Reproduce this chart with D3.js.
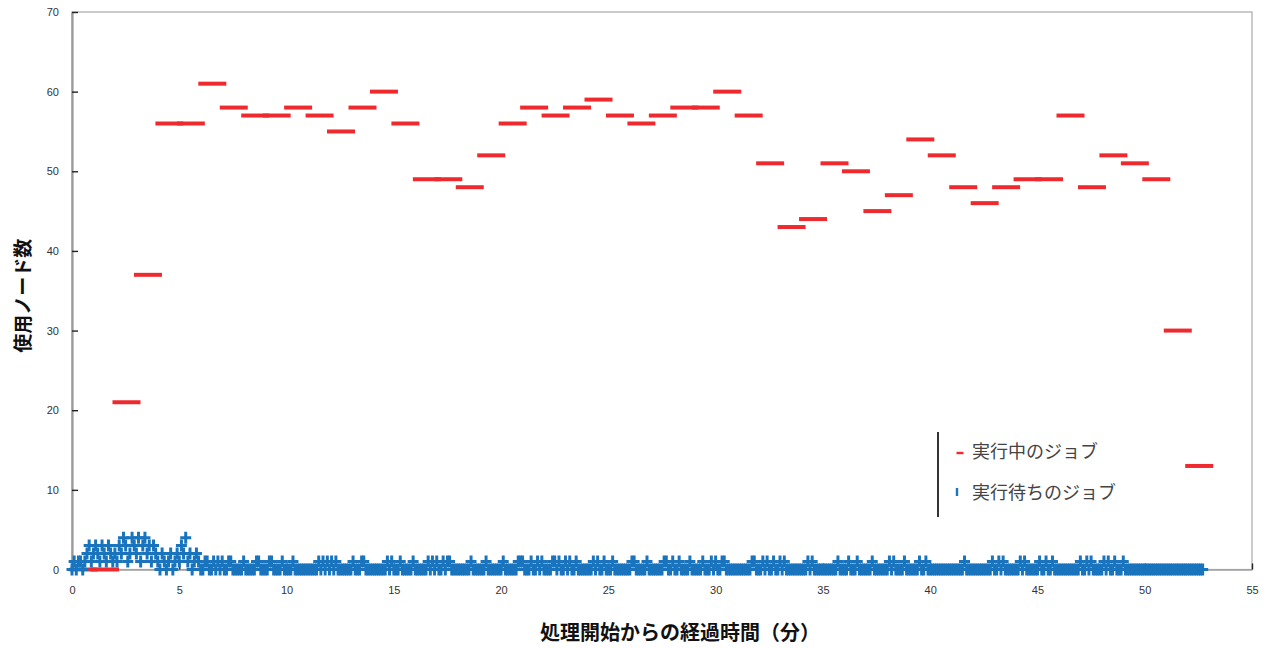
<!DOCTYPE html>
<html>
<head>
<meta charset="utf-8">
<script src="https://cdn.jsdelivr.net/npm/d3@7"></script>
<style>
  body { margin: 0; background: #fff; }
  svg { display: block; }
</style>
</head>
<body>
<svg id="chart" width="1271" height="648"></svg>
<script>
// Running jobs: nodes in use, read once a minute (minutes since start).
const runMinutes = [
  0.54, 1.54, 2.54, 3.54, 4.54, 5.54, 6.54, 7.54, 8.54, 9.54,
  10.54, 11.54, 12.54, 13.54, 14.54, 15.54, 16.54, 17.54, 18.54, 19.54,
  20.54, 21.54, 22.54, 23.54, 24.54, 25.54, 26.54, 27.54, 28.54, 29.54,
  30.54, 31.54, 32.54, 33.54, 34.54, 35.54, 36.54, 37.54, 38.54, 39.54,
  40.54, 41.54, 42.54, 43.54, 44.54, 45.54, 46.54, 47.54, 48.54, 49.54,
  50.54, 51.54, 52.54
];
const runNodes = [
  0, 0, 21, 37, 56, 56, 61, 58, 57, 57,
  58, 57, 55, 58, 60, 56, 49, 49, 48, 52,
  56, 58, 57, 58, 59, 57, 56, 57, 58, 58,
  60, 57, 51, 43, 44, 51, 50, 45, 47, 54,
  52, 48, 46, 48, 49, 49, 57, 48, 52, 51,
  49, 30, 13
];

// Waiting jobs: the queue is logged every 6 seconds and is empty
// except at the samples listed below.
const queueSampleStep = 0.1;
const queueLastSample = 52.7;

// Start-up surge: sample minute and queue length.
const burstMinutes = [
  0.1, 0.3, 0.4, 0.6,
  0.7, 0.8, 0.9, 1.0, 1.1, 1.2, 1.3, 1.4, 1.5, 1.6,
  1.7, 1.8, 1.9, 2.0, 2.1, 2.2, 2.3, 2.4, 2.5, 2.6,
  2.7, 2.8, 2.9, 3.0, 3.1, 3.2, 3.3, 3.4, 3.5, 3.6,
  3.7, 3.8, 3.9, 4.0,
  4.2, 4.3, 4.5, 4.6, 4.8, 4.9, 5.0, 5.1, 5.2, 5.3,
  5.4, 5.5, 5.7, 5.8, 5.9
];
const burstCounts = [
  1, 1, 1, 1,
  2, 3, 1, 2, 3, 2, 1, 3, 2, 1,
  3, 2, 1, 2, 1, 3, 2, 4, 3, 1,
  2, 4, 3, 2, 4, 1, 3, 4, 2, 3,
  1, 3, 2, 1,
  2, 1, 1, 2, 1, 2, 1, 3, 2, 4,
  1, 2, 1, 2, 1
];
// Later samples with exactly one job waiting.
const singleWaitMinutes = [
  6.2, 6.3, 6.6, 6.8, 7.0, 7.3, 7.4, 8.0, 8.6, 8.7,
  9.2, 9.3, 9.8, 10.3, 11.5, 11.7, 11.9, 12.1, 12.3, 13.1,
  13.5, 13.6, 14.7, 14.9, 15.3, 15.9, 16.6, 16.8, 17.0, 17.3,
  17.5, 17.6, 18.6, 19.3, 20.1, 20.8, 20.9, 21.0, 21.4, 21.7,
  21.9, 22.4, 22.5, 22.7, 23.0, 23.2, 23.5, 24.3, 24.5, 24.8,
  25.2, 26.1, 26.2, 26.8, 27.6, 27.7, 28.0, 28.3, 28.8, 29.4,
  29.8, 30.0, 30.3, 30.4, 31.7, 31.8, 32.2, 32.4, 32.7, 33.0,
  33.2, 34.3, 34.5, 35.7, 36.2, 36.6, 37.3, 38.1, 38.3, 38.8,
  39.5, 39.8, 41.6, 42.9, 43.2, 43.4, 44.2, 44.4, 45.1, 45.4,
  45.7, 47.0, 47.3, 47.5, 48.1, 48.3, 48.6, 49.0
];

const xTicks = [0, 5, 10, 15, 20, 25, 30, 35, 40, 45, 50, 55];
const yTicks = [0, 10, 20, 30, 40, 50, 60, 70];

const seriesNames = ["実行中のジョブ", "実行待ちのジョブ"];
const xTitle = "処理開始からの経過時間（分）";
const yTitle = "使用ノード数";

const colors = { run: "#ee2a2f", wait: "#1a74bd" };

// ---- layout ----
const W = 1271, H = 648;
const margin = { top: 12, right: 19, bottom: 78.5, left: 72 };
const svg = d3.select("#chart");

const x = d3.scaleLinear().domain([0, 55]).range([margin.left, W - margin.right]);
const y = d3.scaleLinear().domain([0, 70]).range([H - margin.bottom, margin.top]);

// ---- assemble the queue series ----
const queued = new Map();
burstMinutes.forEach((m, i) => queued.set(Math.round(m / queueSampleStep), burstCounts[i]));
singleWaitMinutes.forEach(m => queued.set(Math.round(m / queueSampleStep), 1));
const waitSeries = d3.range(0, Math.round(queueLastSample / queueSampleStep) + 1)
  .map(i => ({ t: i * queueSampleStep, v: queued.has(i) ? queued.get(i) : 0 }));

const runSeries = runMinutes.map((t, i) => ({ t, v: runNodes[i] }));

// ---- plot frame ----
svg.append("rect")
  .attr("x", x(0)).attr("y", y(70))
  .attr("width", x(55) - x(0)).attr("height", y(0) - y(70))
  .attr("fill", "none").attr("stroke", "#a8a8a8").attr("stroke-width", 1.2);

// ---- axes ----
const yAxis = d3.axisLeft(y).tickValues(yTicks).tickFormat(d3.format("d"))
  .tickSizeInner(-6).tickSizeOuter(0).tickPadding(13);
const gy = svg.append("g").attr("transform", `translate(${x(0)},0)`).call(yAxis);
gy.select(".domain").attr("stroke", "#9a9a9a").attr("stroke-width", 2.2);
gy.selectAll(".tick line").attr("stroke", "#222").attr("stroke-width", 1.4);
gy.selectAll(".tick text")
  .attr("font-family", "Liberation Sans, Arial, sans-serif")
  .attr("font-size", 11).attr("fill", "#333");

const xAxis = d3.axisBottom(x).tickValues(xTicks).tickFormat(d3.format("d"))
  .tickSizeInner(-6).tickSizeOuter(0).tickPadding(17);
const gx = svg.append("g").attr("transform", `translate(0,${y(0)})`).call(xAxis);
gx.select(".domain").attr("stroke", "#a0a0a0").attr("stroke-width", 1.5);
gx.selectAll(".tick line").attr("stroke", "#222").attr("stroke-width", 1.4);
gx.selectAll(".tick text")
  .attr("font-family", "Liberation Sans, Arial, sans-serif")
  .attr("font-size", 11).attr("fill", "#333");

// ---- running jobs: long dash markers ----
const dash = "M-14,0H14";
svg.append("g").selectAll("path").data(runSeries).join("path")
  .attr("d", dash)
  .attr("transform", d => `translate(${x(d.t)},${y(d.v)})`)
  .attr("stroke", colors.run).attr("stroke-width", 4).attr("fill", "none");

// ---- waiting jobs: plus markers ----
const plus = "M-5.5,0H5.5M0,-6V6";
svg.append("g").selectAll("path").data(waitSeries).join("path")
  .attr("d", plus)
  .attr("transform", d => `translate(${x(d.t)},${y(d.v)})`)
  .attr("stroke", colors.wait).attr("stroke-width", 3).attr("fill", "none");

// ---- axis titles ----
svg.append("text")
  .attr("x", 680).attr("y", 640)
  .attr("text-anchor", "middle")
  .attr("font-family", "Noto Sans CJK JP, sans-serif")
  .attr("font-size", 20).attr("font-weight", "bold").attr("fill", "#111")
  .text(xTitle);

svg.append("text")
  .attr("transform", `translate(30,${(y(0) + y(70)) / 2 + 5}) rotate(-90)`)
  .attr("text-anchor", "middle")
  .attr("font-family", "Noto Sans CJK JP, sans-serif")
  .attr("font-size", 19).attr("font-weight", "bold").attr("fill", "#111")
  .text(yTitle);

// ---- legend ----
const legend = svg.append("g").attr("transform", "translate(938,432)");
legend.append("line")
  .attr("x1", 0).attr("x2", 0).attr("y1", 0).attr("y2", 85)
  .attr("stroke", "#333").attr("stroke-width", 2);
const items = [
  { name: seriesNames[0], color: colors.run, mark: "M-3.5,0H3.5", dy: 20 },
  { name: seriesNames[1], color: colors.wait, mark: "M0,-4V4", dy: 61 }
];
const li = legend.selectAll("g.item").data(items).join("g")
  .attr("class", "item")
  .attr("transform", d => `translate(0,${d.dy})`);
li.append("path")
  .attr("d", d => d.mark)
  .attr("transform", (d, i) => i === 0 ? "translate(22,1)" : "translate(19,-1)")
  .attr("stroke", d => d.color).attr("stroke-width", 2.4).attr("fill", "none");
li.append("text")
  .attr("x", 34).attr("y", 0).attr("dy", "0.35em")
  .attr("font-family", "Noto Sans CJK JP, sans-serif")
  .attr("font-size", 18).attr("fill", "#444")
  .text(d => d.name);
</script>
</body>
</html>
